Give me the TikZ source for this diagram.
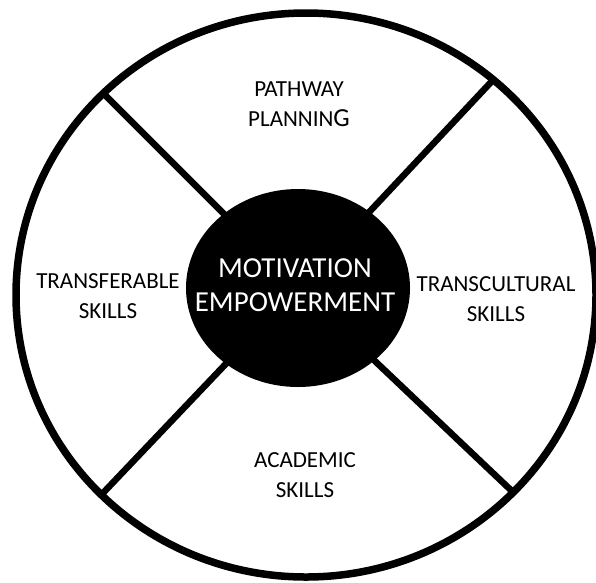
\documentclass[tikz,border=0pt]{standalone}
\usepackage{fontspec}
\setmainfont{Carlito}
\usepackage{tikz}

\begin{document}
\begin{tikzpicture}[x=1pt,y=-1pt,
  label/.style={align=center,font=\fontsize{23}{30}\selectfont},
  spoke/.style={line width=6.5pt}]
\useasboundingbox (0,0) rectangle (596,582);
% outer ring and the four spokes
\draw[line width=7.5pt] (306,295) ellipse[x radius=290, y radius=282];
\coordinate (hubc) at (298,288);
\coordinate (tl) at (103,93);
\coordinate (tr) at (493,80);
\coordinate (bl) at (103,493);
\coordinate (br) at (515,494);
\draw[spoke] (tl) -- (hubc);
\draw[spoke] (tr) -- (hubc);
\draw[spoke] (bl) -- (hubc);
\draw[spoke] (br) -- (hubc);
% black hub on top
\fill (hubc) ellipse[x radius=112, y radius=99];
\node[text=white,align=center,font=\fontsize{29}{34}\selectfont] (hub) at (295,285)
  {MOTIVATION\\EMPOWERMENT};
\node[label] (plan) at (299,104) {PATHWAY\\PLANNIN{\fontsize{26}{30}\selectfont G}};
\node[label] (transfer) at (108,296) {TRANSFERABLE\\SKILLS};
\node[label] (transcult) at (496,299) {TRANSCULTURAL\\SKILLS};
\node[label] (academic) at (305,475) {ACADEMIC\\SKILLS};
\end{tikzpicture}
\end{document}
